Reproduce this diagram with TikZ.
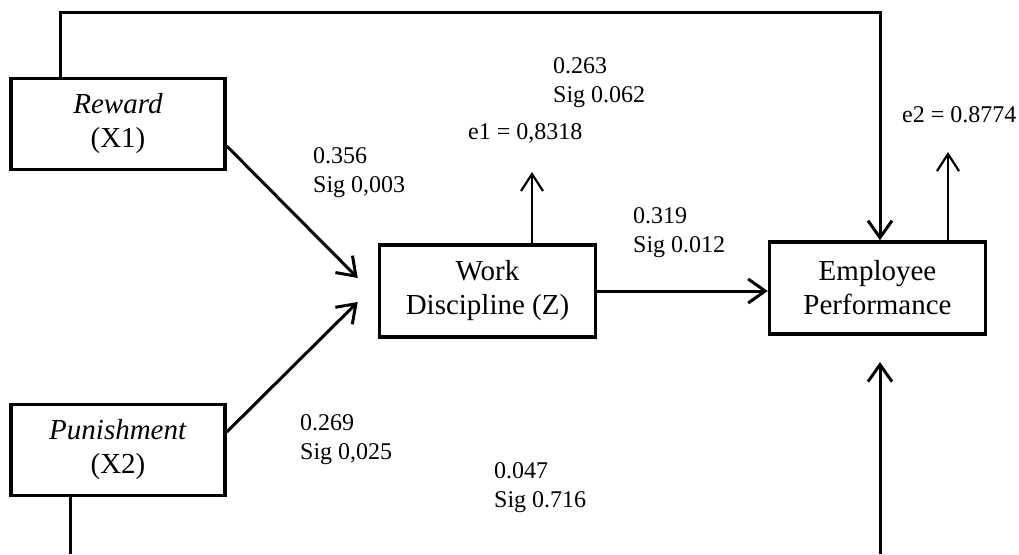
\documentclass[tikz,border=0pt]{standalone}
\usepackage{fontspec}
\setmainfont{Liberation Serif}
\usetikzlibrary{arrows.meta,positioning,calc}

\begin{document}
\begin{tikzpicture}[
        x=1pt, y=-1pt,
        var/.style={rectangle, draw=black, line width=3.5pt, minimum width=214pt, minimum height=91pt, inner sep=0pt, align=center, font=\fontsize{29}{34}\selectfont},
        coef/.style={anchor=north west, inner sep=0pt, align=left, font=\fontsize{24}{29}\selectfont},
        arrow/.style={-{Straight Barb[length=17pt,width=24pt]}, line width=3pt},
        errarrow/.style={-{Straight Barb[length=17pt,width=22pt]}, line width=2.2pt},
        link/.style={line width=3pt}
    ]
        \useasboundingbox (0,0) rectangle (1019,554);

        % Variables
        \node[var] (reward) at (118,124) {\textit{Reward}\\(X1)};
        \node[var] (punish) at (118,450) {\textit{Punishment}\\(X2)};
        \node[var, minimum width=216pt, minimum height=92pt] (wd) at (487.5,291) {Work\\Discipline (Z)};
        \node[var, minimum width=216pt, minimum height=92pt] (ep) at (877.5,288) {Employee\\Performance};

        % Path coefficients
        \node[coef] (c356) at (313,147) {0.356\\Sig 0,003};
        \node[coef] (c263) at (553,57) {0.263\\Sig 0.062};
        \node[coef] (c319) at (633,207) {0.319\\Sig 0.012};
        \node[coef] (c269) at (300,414) {0.269\\Sig 0,025};
        \node[coef] (c047) at (494,462) {0.047\\Sig 0.716};
        \node[coef, anchor=west] (e1) at (468,133) {e1 = 0,8318};
        \node[coef, anchor=west] (e2) at (902,115) {e2 = 0.8774};

        % Helper points
        \coordinate (topL) at (60,12);
        \coordinate (topR) at (880,12);
        \coordinate (e1tip) at (532,172);
        \coordinate (e2tip) at (948,152);
        \coordinate (botL) at (70,554);
        \coordinate (botR) at (880,554);
        \coordinate (botTip) at (880,362);

        % Arrows
        \draw[arrow] ($(reward.east)+(0,22)$) -- ($(wd.west)+(-20,-13)$);
        \draw[arrow] ($(punish.east)+(0,-18)$) -- ($(wd.west)+(-20,11)$);
        \draw[arrow] (wd.east) -- (wd.east -| ep.west);
        \draw[arrow] (reward.north -| topL) -- (topL) -- (topR) -- (topR |- ep.north);
        \draw[errarrow] (e1tip |- wd.north) -- (e1tip);
        \draw[errarrow] (e2tip |- ep.north) -- (e2tip);
        \draw[link] (punish.south -| botL) -- (botL);
        \draw[arrow] (botR) -- (botTip);

    \end{tikzpicture}
\end{document}
